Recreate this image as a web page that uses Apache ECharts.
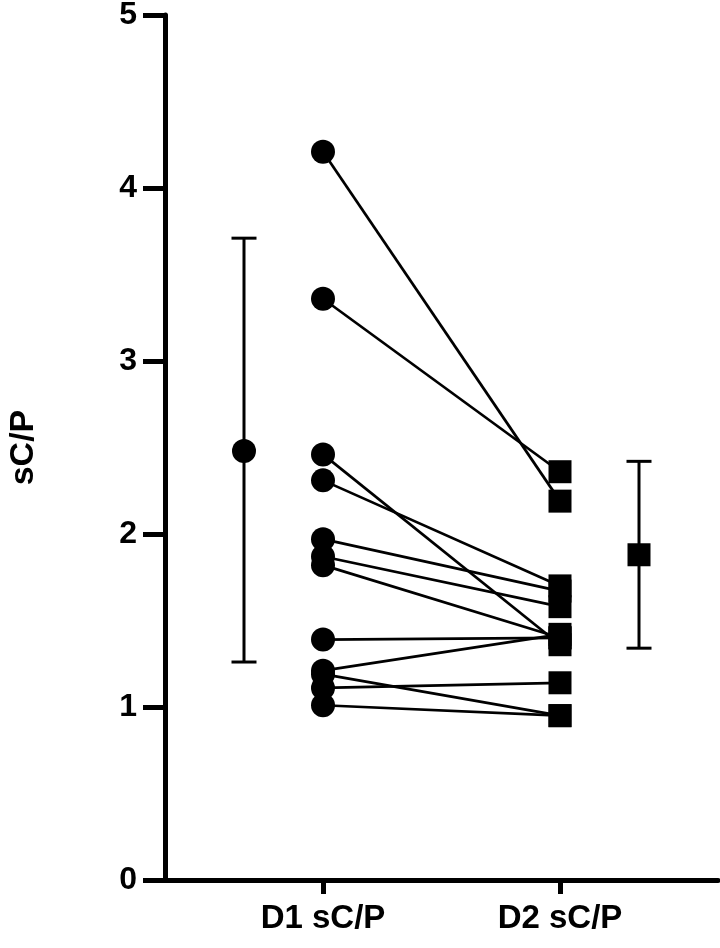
<!DOCTYPE html>
<html>
<head>
<meta charset="utf-8">
<script src="https://cdn.jsdelivr.net/npm/echarts@6/dist/echarts.min.js"></script>
<style>
  html, body { margin: 0; padding: 0; background: #fff; }
  #chart { width: 720px; height: 948px; }
</style>
</head>
<body>
<div id="chart"></div>
<script>
// ---- data ----
const categories = ['D1 sC/P', 'D2 sC/P'];
const yAxisTitle = 'sC/P';
const d1Values = [4.21, 3.36, 2.46, 2.31, 1.97, 1.87, 1.82, 1.39, 1.21, 1.19, 1.11, 1.01];
const d2Values = [2.19, 2.36, 1.36, 1.70, 1.67, 1.58, 1.40, 1.40, 1.42, 0.95, 1.14, 0.95];
const summaryCenter = [2.48, 1.88];
const summaryLow = [1.26, 1.34];
const summaryHigh = [3.71, 2.42];
const yTicks = [0, 1, 2, 3, 4, 5];

// ---- layout (x positions on a 0..7 value axis) ----
const pairX = [2, 5];
const summaryX = [1, 6];
const FONT = "'Liberation Sans', Arial, sans-serif";
const BLACK = { color: '#000', opacity: 1 };

const pairSeries = d1Values.map((v, i) => ({
  type: 'line',
  data: [[pairX[0], v], [pairX[1], d2Values[i]]],
  symbol: 'none',
  lineStyle: { color: '#000', width: 2.7 },
  z: 2,
  silent: true
}));

const option = {
  animation: false,
  backgroundColor: '#fff',
  grid: { left: 165, right: 2, top: 15, bottom: 68, containLabel: false, outerBoundsMode: 'none' },
  xAxis: {
    type: 'value',
    min: 0, max: 7, interval: 1,
    splitLine: { show: false },
    axisLine: { show: true, lineStyle: { color: '#000', width: 5 } },
    axisTick: { show: true, customValues: pairX, length: 14, inside: false, lineStyle: { color: '#000', width: 5 } },
    axisLabel: {
      customValues: pairX,
      formatter: v => (v === pairX[0] ? categories[0] : v === pairX[1] ? categories[1] : ''),
      color: '#000', fontFamily: FONT, fontWeight: 'bold', fontSize: 33, margin: 22
    }
  },
  yAxis: {
    type: 'value',
    min: yTicks[0], max: yTicks[yTicks.length - 1], interval: 1,
    name: yAxisTitle,
    nameLocation: 'middle',
    nameRotate: 90,
    nameGap: 124,
    nameTextStyle: { color: '#000', fontFamily: FONT, fontWeight: 'bold', fontSize: 34 },
    splitLine: { show: false },
    axisLine: { show: true, lineStyle: { color: '#000', width: 5 } },
    axisTick: { show: true, length: 22, inside: false, lineStyle: { color: '#000', width: 5 } },
    axisLabel: { color: '#000', fontFamily: FONT, fontWeight: 'bold', fontSize: 32, margin: 28 }
  },
  series: [
    ...pairSeries,
    {
      type: 'scatter',
      data: d1Values.map(v => [pairX[0], v]),
      symbol: 'circle', symbolSize: 24,
      itemStyle: BLACK, z: 4, silent: true
    },
    {
      type: 'scatter',
      data: d2Values.map(v => [pairX[1], v]),
      symbol: 'rect', symbolSize: 23,
      itemStyle: BLACK, z: 4, silent: true
    },
    {
      type: 'custom',
      data: summaryX.map((x, i) => [x, summaryLow[i], summaryHigh[i]]),
      renderItem: (params, api) => {
        const x = api.value(0);
        const lo = api.coord([x, api.value(1)]);
        const hi = api.coord([x, api.value(2)]);
        const cap = 12.5;
        const st = { stroke: '#000', lineWidth: 3 };
        return {
          type: 'group',
          children: [
            { type: 'line', shape: { x1: lo[0], y1: lo[1], x2: hi[0], y2: hi[1] }, style: st },
            { type: 'line', shape: { x1: lo[0] - cap, y1: lo[1], x2: lo[0] + cap, y2: lo[1] }, style: st },
            { type: 'line', shape: { x1: hi[0] - cap, y1: hi[1], x2: hi[0] + cap, y2: hi[1] }, style: st }
          ]
        };
      },
      z: 3, silent: true
    },
    {
      type: 'scatter',
      data: [[summaryX[0], summaryCenter[0]]],
      symbol: 'circle', symbolSize: 24,
      itemStyle: BLACK, z: 4, silent: true
    },
    {
      type: 'scatter',
      data: [[summaryX[1], summaryCenter[1]]],
      symbol: 'rect', symbolSize: 23,
      itemStyle: BLACK, z: 4, silent: true
    }
  ]
};

const chart = echarts.init(document.getElementById('chart'), null, { renderer: 'canvas' });
chart.setOption(option);
</script>
</body>
</html>
